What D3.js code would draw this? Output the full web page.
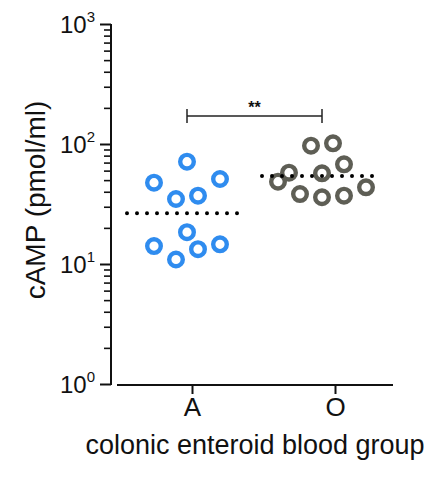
<!DOCTYPE html>
<html>
<head>
<meta charset="utf-8">
<script src="https://cdn.jsdelivr.net/npm/d3@7"></script>
<style>
  body { margin: 0; background: #fff; }
  text { font-family: "Liberation Sans", Arial, sans-serif; fill: #111; }
</style>
</head>
<body>
<svg id="chart" width="432" height="477"></svg>
<script>
// data
const groups = ["A", "O"];
const valuesA = [71.2, 47.6, 51.1, 34.8, 37.1, 18.4, 14.1, 13.3, 14.6, 10.9];
const jitterA = [0, -3, 3, -1, 1, 0, -3, 1, 3, -1];
const valuesO = [96.8, 101.3, 67.7, 57.7, 57.0, 48.5, 38.3, 36.0, 37.1, 43.6];
const jitterO = [-1, 1, 2, -3, 0, -4, -2, 0, 2, 4];
const means = [26.5, 54.1];
const yMajor = [1, 10, 100, 1000];
const sigLabel = "**";

const colors = { A: "#2f8cef", O: "#5e5e55" };

const svg = d3.select("#chart");

var y = d3.scaleLog().domain([1, 1000]).range([384, 24]);
// axis ticks and the data columns do not sit at quite the same spot in the original
var xTick = d3.scaleOrdinal().domain(groups).range([192, 335]);
var xCol = d3.scaleOrdinal().domain(groups).range([187, 322]);
var jit = d3.scaleLinear().domain([-1, 1]).range([-11, 11]);

// y axis
var yMinor = [];
yMajor.slice(0, 3).forEach(m => { for (let k = 2; k <= 9; k++) yMinor.push(m * k); });

svg.append("g")
  .attr("transform", "translate(111,0)")
  .call(d3.axisLeft(y).tickValues(yMinor).tickSize(7).tickFormat(""))
  .call(g => g.select(".domain").remove())
  .call(g => g.selectAll("line").attr("stroke", "#111").attr("stroke-width", 1.6));

svg.append("g")
  .attr("transform", "translate(111,0)")
  .call(d3.axisLeft(y).tickValues(yMajor).tickSize(11).tickFormat(""))
  .call(g => g.select(".domain").remove())
  .call(g => g.selectAll("line").attr("stroke", "#111").attr("stroke-width", 2));

svg.append("line")
  .attr("x1", 111).attr("x2", 111)
  .attr("y1", y(1000)).attr("y2", y(1) + 1)
  .attr("stroke", "#111").attr("stroke-width", 2);

var ylab = svg.append("g").selectAll("text").data(yMajor).join("text")
  .attr("x", 95)
  .attr("y", d => y(d) + 9)
  .attr("text-anchor", "end")
  .attr("font-size", 24);
ylab.append("tspan").text("10");
ylab.append("tspan").attr("font-size", 15).attr("dy", -11).text(d => Math.round(Math.log10(d)));

svg.append("text")
  .attr("transform", "translate(45,200) rotate(-90)")
  .attr("text-anchor", "middle")
  .attr("font-size", 28)
  .text("cAMP (pmol/ml)");

// x axis
svg.append("line")
  .attr("x1", 117).attr("x2", 393)
  .attr("y1", 385).attr("y2", 385)
  .attr("stroke", "#111").attr("stroke-width", 2);

svg.append("g")
  .attr("transform", "translate(0,385)")
  .call(d3.axisBottom(xTick).tickSize(9).tickPadding(4))
  .call(g => g.select(".domain").remove())
  .call(g => g.selectAll("line").attr("stroke", "#111").attr("stroke-width", 2))
  .call(g => g.selectAll("text").attr("font-size", 26).attr("fill", "#111")
    .style("font-family", "'Liberation Sans', Arial, sans-serif"));

svg.append("text")
  .attr("x", 255)
  .attr("y", 454)
  .attr("text-anchor", "middle")
  .attr("font-size", 27)
  .text("colonic enteroid blood group");

// points
var pts = valuesA.map((v, i) => ({ g: "A", v: v, j: jitterA[i] }))
  .concat(valuesO.map((v, i) => ({ g: "O", v: v, j: jitterO[i] })));

svg.append("g").selectAll("circle").data(pts).join("circle")
  .attr("cx", d => xCol(d.g) + jit(d.j))
  .attr("cy", d => y(d.v))
  .attr("r", 6.8)
  .attr("fill", "none")
  .attr("stroke", d => colors[d.g])
  .attr("stroke-width", 4.4);

// mean lines (dotted)
svg.append("g").selectAll("line").data(groups).join("line")
  .attr("x1", d => xCol(d) - 60)
  .attr("x2", d => xCol(d) + 60)
  .attr("y1", (d, i) => y(means[i]))
  .attr("y2", (d, i) => y(means[i]))
  .attr("stroke", "#000")
  .attr("stroke-width", 4)
  .attr("stroke-linecap", "round")
  .attr("stroke-dasharray", "0 10");

// significance bracket
var by = 116;
var bk = svg.append("g").attr("stroke", "#222").attr("stroke-width", 1.5);
bk.append("line").attr("x1", xCol("A")).attr("x2", xCol("O")).attr("y1", by).attr("y2", by);
groups.forEach(g => {
  bk.append("line").attr("x1", xCol(g)).attr("x2", xCol(g)).attr("y1", by - 7).attr("y2", by + 7);
});
svg.append("text")
  .attr("x", (xCol("A") + xCol("O")) / 2)
  .attr("y", by - 3)
  .attr("text-anchor", "middle")
  .attr("font-size", 16)
  .attr("font-weight", "bold")
  .text(sigLabel);
</script>
</body>
</html>
